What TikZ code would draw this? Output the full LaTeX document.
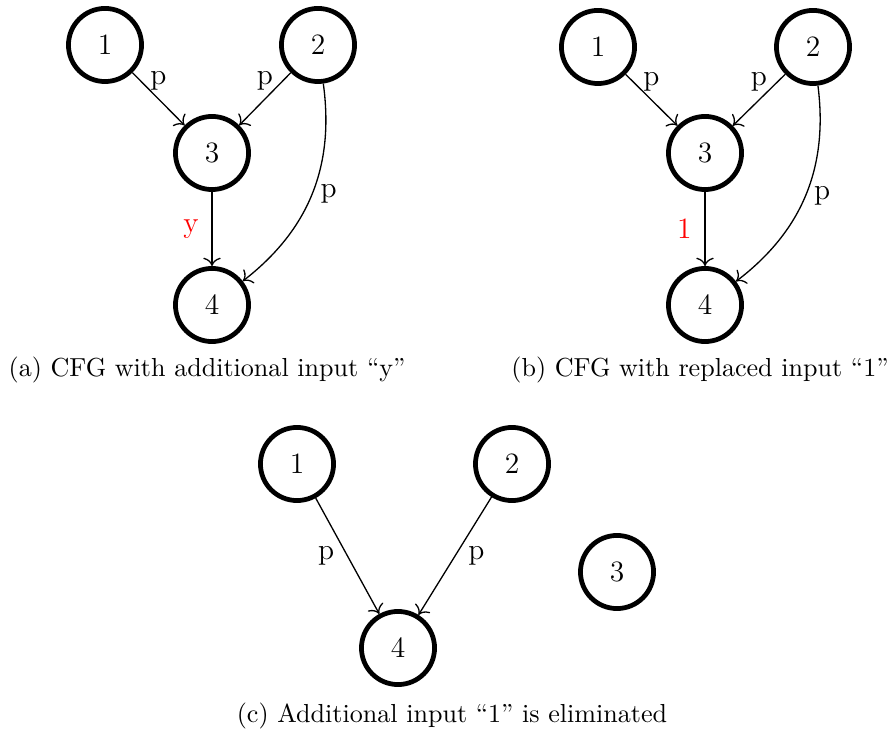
\documentclass[tikz,border=0pt]{standalone}
\usetikzlibrary{arrows.meta}
\begin{document}
\begin{tikzpicture}[x=0.42pt,y=-0.42pt,
  state/.style={circle,draw,line width=2pt,minimum size=30.7pt,inner sep=0pt,
    font=\fontsize{12.4}{15}\selectfont},
  flow/.style={-{Computer Modern Rightarrow[scale=1.25]},line width=0.55pt},
  lbl/.style={font=\fontsize{12.4}{15}\selectfont},
  hot/.style={lbl,text=red},
  caption/.style={anchor=base,font=\fontsize{10.95}{13.6}\selectfont}]
\useasboundingbox (0,0) rectangle (896,736);

% (a) CFG with additional input
\node[state] (a1) at (105,45) {1};
\node[state] (a2) at (318,45) {2};
\node[state] (a3) at (212,153) {3};
\node[state] (a4) at (212,305) {4};
\draw[flow] (a1) -- node[lbl,above] {p} (a3);
\draw[flow] (a2) -- node[lbl,above] {p} (a3);
\draw[flow] (a3) -- node[hot,left=2pt] {y} (a4);
\draw[flow] (a2) to[bend left=30] node[lbl,right] {p} (a4);
\node[caption] (capa) at (207,377) {(a) CFG with additional input ``y''};

% (b) CFG with replaced input
\node[state] (b1) at (598,47) {1};
\node[state] (b2) at (813,47) {2};
\node[state] (b3) at (705,153) {3};
\node[state] (b4) at (705,305) {4};
\draw[flow] (b1) -- node[lbl,above] {p} (b3);
\draw[flow] (b2) -- node[lbl,above] {p} (b3);
\draw[flow] (b3) -- node[hot,left=2pt] {1} (b4);
\draw[flow] (b2) to[bend left=30] node[lbl,right] {p} (b4);
\node[caption] (capb) at (700,377) {(b) CFG with replaced input ``1''};

% (c) the additional input is eliminated
\node[state] (c1) at (297,464) {1};
\node[state] (c2) at (512,464) {2};
\node[state] (c3) at (617,572) {3};
\node[state] (c4) at (398,648) {4};
\draw[flow] (c1) -- node[lbl,left=2pt] {p} (c4);
\draw[flow] (c2) -- node[lbl,right=2pt] {p} (c4);
\node[caption] (capc) at (452,722) {(c) Additional input ``1'' is eliminated};
\end{tikzpicture}
\end{document}
